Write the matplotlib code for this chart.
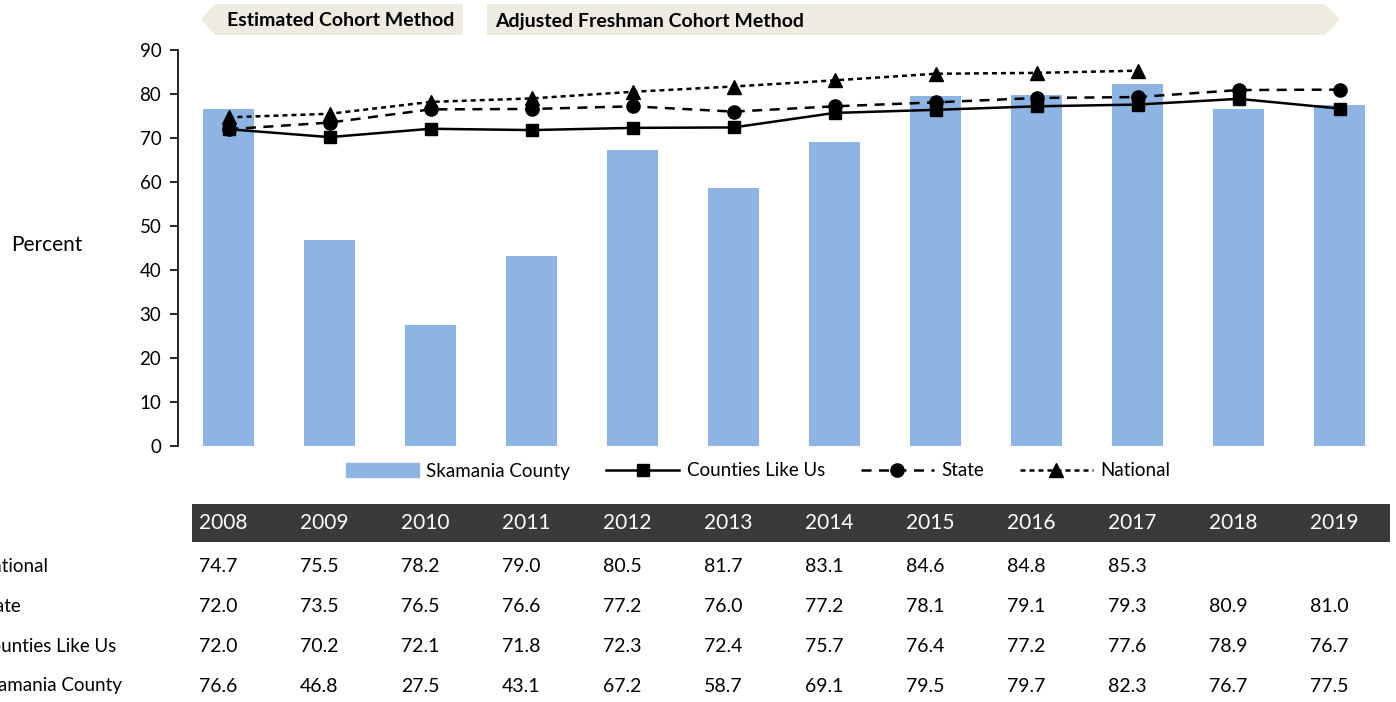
import matplotlib
matplotlib.use("Agg")
from matplotlib import pyplot as plt
from matplotlib import transforms
from matplotlib.patches import Polygon, Rectangle
from matplotlib.lines import Line2D
import numpy as np

plt.rcParams['font.family'] = ['Lato', 'DejaVu Sans']

years = ["2008", "2009", "2010", "2011", "2012", "2013",
         "2014", "2015", "2016", "2017", "2018", "2019"]
skamania = [76.6, 46.8, 27.5, 43.1, 67.2, 58.7, 69.1, 79.5, 79.7, 82.3, 76.7, 77.5]
counties = [72.0, 70.2, 72.1, 71.8, 72.3, 72.4, 75.7, 76.4, 77.2, 77.6, 78.9, 76.7]
state = [72.0, 73.5, 76.5, 76.6, 77.2, 76.0, 77.2, 78.1, 79.1, 79.3, 80.9, 81.0]
national = [74.7, 75.5, 78.2, 79.0, 80.5, 81.7, 83.1, 84.6, 84.8, 85.3, None, None]

BAR_COLOR = "#8EB4E3"
BANNER = "#EEEBE0"
W, H = 1396, 702

fig = plt.figure(figsize=(W / 100, H / 100), dpi=100)
ax = fig.add_axes([178 / W, 1 - 446 / H, (1390 - 178) / W, 396 / H])

x = np.arange(len(years))
ax.bar(x, skamania, width=0.5, color=BAR_COLOR, zorder=1)
ax.plot(x, counties, color="black", lw=1.8, marker="s", markersize=9, zorder=3)
ax.plot(x, state, color="black", lw=1.8, linestyle=(0, (4, 3)), marker="o",
        markersize=9.5, zorder=3)
nat = np.array([np.nan if v is None else v for v in national], dtype=float)
ax.plot(x, nat, color="black", lw=1.8, linestyle=(0, (2, 1.6)), marker="^",
        markersize=9.5, zorder=3)

ax.set_xlim(-0.5, len(years) - 0.5)
ax.set_ylim(0, 90)
ax.set_yticks(np.arange(0, 91, 10))
ax.set_xticks([])
for s in ["top", "right", "bottom"]:
    ax.spines[s].set_visible(False)
ax.spines["left"].set_linewidth(1.2)
ax.tick_params(axis="y", length=6, width=1.2, labelsize=13.5, pad=6)

fig.text(47 / W, 1 - 245 / H, "Percent", ha="center", va="center", fontsize=15)

# legend
handles = [
    Rectangle((0, 0), 1, 1, color=BAR_COLOR),
    Line2D([], [], color="black", lw=1.8, marker="s", markersize=9),
    Line2D([], [], color="black", lw=1.8, linestyle=(0, (4, 3)), marker="o", markersize=9.5),
    Line2D([], [], color="black", lw=1.8, linestyle=(0, (2, 1.6)), marker="^", markersize=9.5),
]
labels = ["Skamania County", "Counties Like Us", "State", "National"]
fig.legend(handles, labels, loc="center", bbox_to_anchor=(758 / W, 1 - 471 / H),
           ncol=4, frameon=False, fontsize=13.5, handlelength=3.9,
           columnspacing=1.9, handletextpad=0.4)

# banners
fig.add_artist(Polygon([(201 / W, 1 - 19.5 / H), (215 / W, 1 - 4 / H), (463 / W, 1 - 4 / H),
                        (463 / W, 1 - 35 / H), (215 / W, 1 - 35 / H)],
                       closed=True, transform=fig.transFigure, color=BANNER, lw=0))
fig.add_artist(Polygon([(487 / W, 1 - 4 / H), (1325 / W, 1 - 4 / H), (1340 / W, 1 - 19.5 / H),
                        (1325 / W, 1 - 35 / H), (487 / W, 1 - 35 / H)],
                       closed=True, transform=fig.transFigure, color=BANNER, lw=0))
fig.text(227 / W, 1 - 21 / H, "Estimated Cohort Method", ha="left", va="center",
         fontsize=14, fontweight="bold")
fig.text(495 / W, 1 - 21 / H, "Adjusted Freshman Cohort Method", ha="left", va="center",
         fontsize=14, fontweight="bold")

# data table
tr = transforms.blended_transform_factory(ax.transData, fig.transFigure)
fig.add_artist(Rectangle((192 / W, 1 - 542 / H), (1390 - 192) / W, 38 / H,
                         transform=fig.transFigure, color="#3A3A3A", lw=0))
for i, yr in enumerate(years):
    fig.text(i - 0.29, 1 - 523 / H, yr, transform=tr, ha="left", va="center",
             fontsize=15, color="white")

rows = [("National", national), ("State", state),
        ("Counties Like Us", counties), ("Skamania County", skamania)]
for r, (name, vals) in enumerate(rows):
    yy = 1 - (566 + 40 * r) / H
    fig.text(-22 / W, yy, name, ha="left", va="center", fontsize=13.5)
    for i, v in enumerate(vals):
        if v is None:
            continue
        fig.text(i - 0.29, yy, f"{v:.1f}", transform=tr, ha="left", va="center",
                 fontsize=14)

fig.savefig("out.png", dpi=100)
